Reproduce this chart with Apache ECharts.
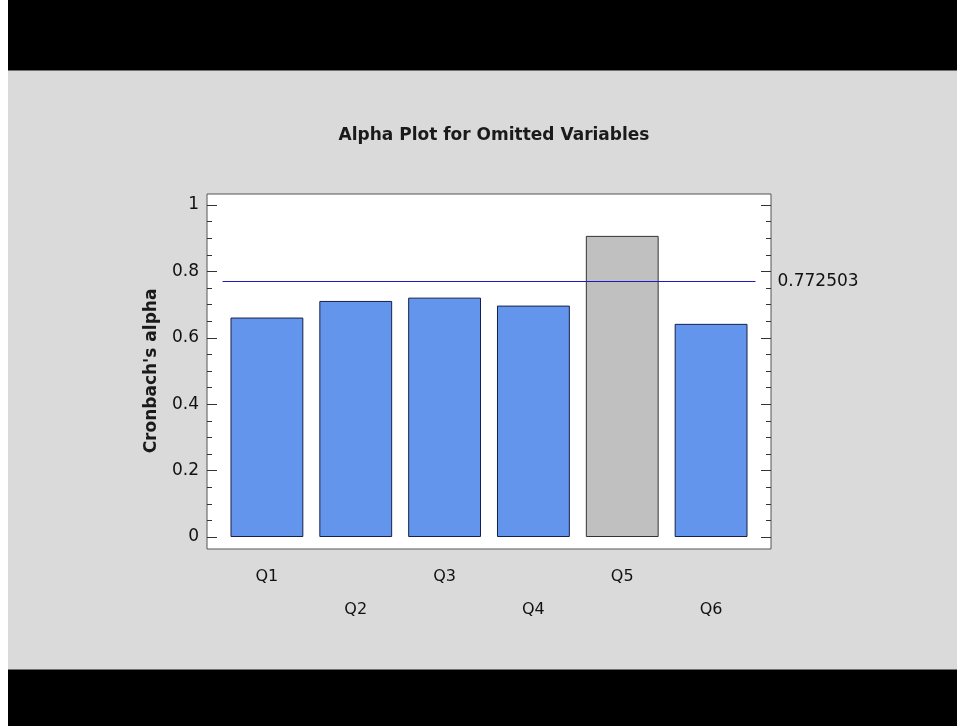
<!DOCTYPE html>
<html lang="en">
<head>
<meta charset="UTF-8">
<title>Alpha Plot for Omitted Variables</title>
<script src="https://cdn.jsdelivr.net/npm/echarts@6.0.0/dist/echarts.min.js"></script>
<style>
    html, body {
        margin: 0;
        padding: 0;
        width: 957px;
        height: 726px;
        overflow: hidden;
        background: #dadada;
    }
    .strip { position: absolute; left: 0; top: 0; width: 8px; height: 726px; background: #fff; }
    .band-top { position: absolute; left: 8px; top: 0; right: 0; height: 70px; background: #000; border-bottom: 1px solid #707070; }
    .band-bottom { position: absolute; left: 8px; top: 669px; right: 0; bottom: 0; background: #000; border-top: 1px solid #707070; }
    #chart { position: absolute; left: 0; top: 0; width: 957px; height: 726px; }
</style>
</head>
<body>
<div class="strip"></div>
<div class="band-top"></div>
<div class="band-bottom"></div>
<div id="chart"></div>
<script>
    // items
    var categories = ['Q1', 'Q2', 'Q3', 'Q4', 'Q5', 'Q6'];
    // cronbach's alpha with the item left out
    var alphaIfOmitted = [0.661, 0.711, 0.721, 0.697, 0.907, 0.642];
    // alpha of the full scale
    var overallAlpha = 0.772503;
    // item drawn in gray (alpha goes up when it is dropped)
    var highlighted = ['Q5'];

    var font = 'DejaVu Sans';

    var barData = categories.map(function (c, i) {
        if (highlighted.indexOf(c) >= 0) {
            return { value: alphaIfOmitted[i], itemStyle: { color: '#c0c0c0', borderColor: '#333' } };
        }
        return alphaIfOmitted[i];
    });

    var myChart = echarts.init(document.getElementById('chart'));

    var tickStyle = { color: '#333', width: 1 };

    var option = {
        backgroundColor: 'transparent',
        animation: false,
        title: {
            text: 'Alpha Plot for Omitted Variables',
            left: 489,
            textAlign: 'center',
            top: 122,
            textStyle: { fontFamily: font, fontSize: 17, fontWeight: 'bold', color: '#1a1a1a' }
        },
        grid: [
            // white plot frame
            { left: 207, top: 194, width: 564, height: 355, show: true, backgroundColor: '#fff', borderColor: '#555', borderWidth: 1 },
            // data area
            { left: 222.5, top: 205, width: 533, height: 332 }
        ],
        xAxis: [
            { gridIndex: 0, type: 'value', show: false },
            {
                gridIndex: 1,
                type: 'category',
                data: categories,
                axisLine: { show: false },
                axisTick: { show: false },
                axisLabel: {
                    interval: 0,
                    margin: 23,
                    lineHeight: 33,
                    fontFamily: font,
                    fontSize: 16,
                    color: '#111',
                    formatter: function (value, index) {
                        return index % 2 ? '\n' + value : value;
                    }
                }
            }
        ],
        yAxis: [
            { gridIndex: 0, type: 'value', show: false },
            {
                gridIndex: 1,
                type: 'value',
                position: 'left',
                offset: 15.5,
                min: 0,
                max: 1,
                interval: 0.2,
                name: "Cronbach's alpha",
                nameLocation: 'middle',
                nameGap: 47,
                nameTextStyle: { fontFamily: font, fontSize: 17, fontWeight: 'bold', color: '#1a1a1a' },
                axisLine: { show: false },
                axisTick: { show: true, inside: true, length: 10, lineStyle: tickStyle },
                minorTick: { show: true, splitNumber: 4, length: 5, lineStyle: tickStyle },
                splitLine: { show: false },
                axisLabel: { margin: 8, fontFamily: font, fontSize: 17, color: '#111' }
            },
            {
                gridIndex: 1,
                type: 'value',
                position: 'right',
                offset: 15.5,
                min: 0,
                max: 1,
                interval: 0.2,
                axisLine: { show: false },
                axisTick: { show: true, inside: true, length: 10, lineStyle: tickStyle },
                minorTick: { show: true, splitNumber: 4, length: 5, lineStyle: tickStyle },
                splitLine: { show: false },
                axisLabel: { show: false }
            }
        ],
        series: [
            {
                type: 'bar',
                xAxisIndex: 1,
                yAxisIndex: 1,
                data: barData,
                barCategoryGap: '18%',
                itemStyle: { color: '#6495ed', borderColor: '#16204a', borderWidth: 1 },
                markLine: {
                    silent: true,
                    symbol: 'none',
                    lineStyle: { color: '#1c1cc4', width: 1.2, type: 'solid', opacity: 1 },
                    label: {
                        position: 'end',
                        distance: 22,
                        fontFamily: font,
                        fontSize: 17,
                        color: '#111',
                        formatter: function () { return String(overallAlpha); }
                    },
                    data: [{ yAxis: overallAlpha }]
                }
            }
        ]
    };

    myChart.setOption(option);
</script>
</body>
</html>
